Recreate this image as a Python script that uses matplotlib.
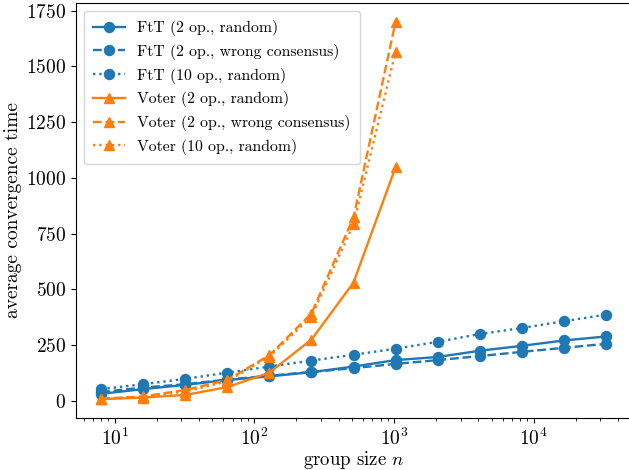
import matplotlib
matplotlib.use("Agg")
import matplotlib.pyplot as plt

plt.rcParams['font.family'] = 'serif'
plt.rcParams['font.serif'] = ['cmr10']
plt.rcParams['mathtext.fontset'] = 'cm'
plt.rcParams['axes.formatter.use_mathtext'] = True
plt.rcParams['font.size'] = 14
plt.rcParams['lines.markersize'] = 7.2
plt.rcParams['lines.linewidth'] = 1.7

# group sizes
n_ftt = [8, 16, 32, 64, 128, 256, 512, 1024, 2048, 4096, 8192, 16384, 32768]
n_voter = [8, 16, 32, 64, 128, 256, 512, 1024]

ftt_2_random = [32, 53, 72, 94, 110, 129, 154, 183, 197, 225, 247, 271, 289]
ftt_2_wrong = [40, 60, 75, 96, 113, 130, 147, 166, 183, 201, 220, 238, 256]
ftt_10_random = [53, 75, 99, 127, 154, 181, 207, 234, 265, 300, 327, 357, 387]

voter_2_random = [8, 15, 27, 62, 127, 275, 531, 1048]
voter_2_wrong = [10, 20, 49, 94, 205, 392, 823, 1700]
voter_10_random = [9, 18, 42, 88, 199, 378, 792, 1565]

blue = '#1f77b4'
orange = '#ff7f0e'

fig = plt.figure(figsize=(6.29, 4.70), dpi=100)
ax = fig.add_axes([76 / 629, 52 / 470, 555 / 629, 415 / 470])

ax.plot(n_ftt, ftt_2_random, '-o', color=blue, label='FtT (2 op., random)')
ax.plot(n_ftt, ftt_2_wrong, '--o', color=blue, label='FtT (2 op., wrong consensus)')
ax.plot(n_ftt, ftt_10_random, ':o', color=blue, label='FtT (10 op., random)')
ax.plot(n_voter, voter_2_random, '-^', color=orange, label='Voter (2 op., random)')
ax.plot(n_voter, voter_2_wrong, '--^', color=orange, label='Voter (2 op., wrong consensus)')
ax.plot(n_voter, voter_10_random, ':^', color=orange, label='Voter (10 op., random)')

ax.set_xscale('log')
ax.set_xlabel('group size $n$', fontsize=13.5, labelpad=0)
ax.set_ylabel('average convergence time', labelpad=3)
ax.legend(loc='upper left', fontsize=11.3, labelspacing=0.49, borderpad=0.6)

fig.savefig('out.png', dpi=100)
